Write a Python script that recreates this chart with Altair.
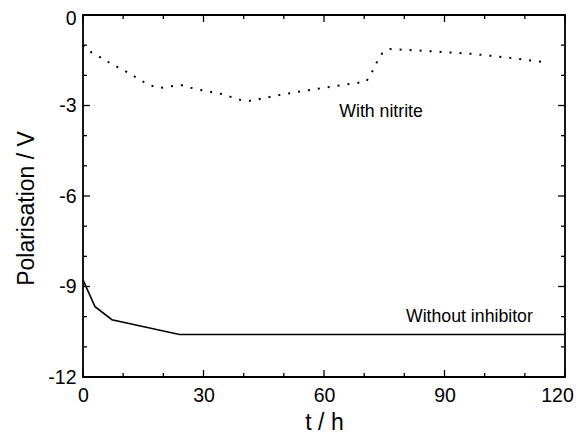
import altair as alt
import pandas as pd

W, H = 482, 362

t_without = [0, 3, 7.2, 24, 120]
p_without = [-8.78, -9.67, -10.1, -10.59, -10.59]

t_nitrite = [0, 1, 3.8, 6.2, 8.9, 11.5, 14, 16.7, 19.2, 21.8, 24.3, 26.8, 29.1, 34.5,
             39.8, 42.3, 44.8, 49.8, 54.7, 60.2, 65.6, 70.5, 71.8, 73, 74.5, 76.4,
             86.6, 96.9, 105, 114.9]
p_nitrite = [-1.0, -1.16, -1.36, -1.55, -1.75, -1.93, -2.14, -2.33, -2.42, -2.36, -2.32,
             -2.41, -2.48, -2.62, -2.84, -2.84, -2.76, -2.63, -2.52, -2.41, -2.3, -2.21,
             -1.93, -1.6, -1.27, -1.13, -1.2, -1.29, -1.4, -1.56]

x_major = [0, 30, 60, 90, 120]
x_minor = [10, 20, 40, 50, 70, 80, 100, 110]
y_major = [-12, -9, -6, -3, 0]
y_minor = [-11, -10, -8, -7, -5, -4, -2, -1]

labels = ["With nitrite", "Without inhibitor"]
label_t = [74.2, 96.2]
label_p = [-3.38, -10.18]

FONT = "Liberation Sans"
xs = alt.Scale(domain=[0, 120], nice=False, zero=False)
ys = alt.Scale(domain=[-12, 0], nice=False, zero=False)

df_wo = pd.DataFrame({"t": t_without, "p": p_without})
df_ni = pd.DataFrame({"t": t_nitrite, "p": p_nitrite})
df_lab = pd.DataFrame({"t": label_t, "p": label_p, "label": labels})

xaxis = alt.Axis(values=x_major, title="t / h", labelExpr="'' + datum.value",
                 labelPadding=9, labelFlush=False,
                 labelOffset=alt.ExprRef(expr="datum.value == 120 ? -8 : 0"),
                 titleBaseline="alphabetic", titleY=52)
yaxis = alt.Axis(values=y_major, title="Polarisation / V", labelExpr="'' + datum.value",
                 labelPadding=7, labelFlush=False,
                 labelOffset=alt.ExprRef(expr="datum.value == 0 ? 3 : 0"),
                 titleBaseline="alphabetic", titleAlign="center", titleAngle=-90,
                 titleX=-50, titleY=193)

line_wo = alt.Chart(df_wo).mark_line(color="black", strokeWidth=1.6).encode(
    x=alt.X("t:Q", scale=xs, axis=xaxis),
    y=alt.Y("p:Q", scale=ys, axis=yaxis),
)
line_ni = alt.Chart(df_ni).mark_line(color="black", strokeWidth=2, strokeDash=[2, 8]).encode(
    x=alt.X("t:Q", scale=xs),
    y=alt.Y("p:Q", scale=ys),
)
text = alt.Chart(df_lab).mark_text(font=FONT, fontSize=17.7, color="black",
                                   align="center", baseline="alphabetic").encode(
    x=alt.X("t:Q", scale=xs),
    y=alt.Y("p:Q", scale=ys),
    text="label:N",
)


def xticks(vals, length, top):
    df = pd.DataFrame({"t": vals})
    if top:
        yy, yy2 = alt.value(0), alt.value(length)
    else:
        yy, yy2 = alt.value(H), alt.value(H - length)
    return alt.Chart(df).mark_rule(color="black", strokeWidth=1.3).encode(
        x=alt.X("t:Q", scale=xs), y=yy, y2=yy2)


def yticks(vals, length, right):
    df = pd.DataFrame({"p": vals})
    if right:
        xx, xx2 = alt.value(W), alt.value(W - length)
    else:
        xx, xx2 = alt.value(0), alt.value(length)
    return alt.Chart(df).mark_rule(color="black", strokeWidth=1.3).encode(
        y=alt.Y("p:Q", scale=ys), x=xx, x2=xx2)


ticks = [
    xticks(x_major, 7, False), xticks(x_minor, 4, False),
    xticks(x_major, 7, True), xticks(x_minor, 4, True),
    yticks(y_major, 7, False), yticks(y_minor, 4, False),
    yticks(y_major, 7, True), yticks(y_minor, 4, True),
]

chart = alt.layer(line_wo, line_ni, text, *ticks).properties(
    width=W, height=H,
    autosize=alt.AutoSizeParams(type="none"),
    padding={"left": 75, "top": 7, "right": 9, "bottom": 56},
).configure_view(
    stroke="black", strokeWidth=1.8
).configure_axis(
    domain=False, ticks=False, grid=False,
    labelFont=FONT, labelFontSize=19.5, labelColor="black",
    titleFont=FONT, titleFontSize=23, titleFontWeight="normal", titleColor="black",
)

chart.save("out.html", embed_options={"renderer": "svg", "actions": False})
